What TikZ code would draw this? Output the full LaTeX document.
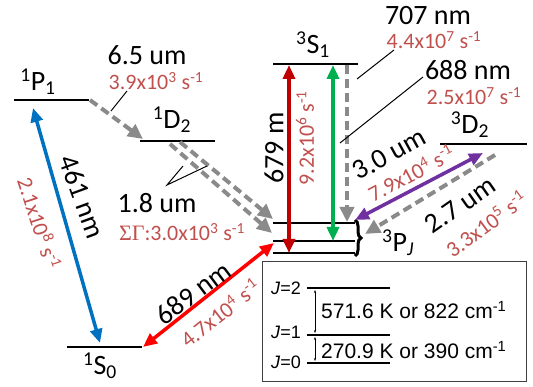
\documentclass[tikz,border=0pt]{standalone}
\usepackage{fontspec}
\setmainfont{Carlito}
\newfontfamily\boxfont{Liberation Sans}
\newfontfamily\greekfont{Liberation Serif}
\usetikzlibrary{arrows.meta,decorations.pathreplacing}
\definecolor{ratered}{HTML}{C0504D}
\definecolor{darkred}{HTML}{C00000}
\definecolor{brightred}{HTML}{FF0000}
\definecolor{lineblue}{HTML}{0070C0}
\definecolor{linegreen}{HTML}{00B050}
\definecolor{linepurple}{HTML}{7030A0}
\definecolor{decaygray}{HTML}{8A8A8A}
\newcommand{\bigtxt}{\fontsize{28}{32}\selectfont}
\newcommand{\ratetxt}{\fontsize{22}{26}\selectfont}
\newcommand{\up}[1]{\textsuperscript{#1}}
\newcommand{\dn}[1]{\textsubscript{#1}}
\tikzset{
  level/.style={line width=1.5pt},
  trans/.style={line width=3.5pt, {Triangle[length=14pt,width=12pt]}-{Triangle[length=14pt,width=12pt]}},
  decay/.style={line width=4pt, decaygray, dash pattern=on 9pt off 5pt, -{Triangle[length=15pt,width=14pt]}},
  lbl/.style={font=\bigtxt, inner sep=0pt},
  rate/.style={font=\ratetxt, text=ratered, inner sep=0pt},
  leader/.style={line width=1pt},
  jlbl/.style={font=\boxfont\fontsize{18}{20}\selectfont, inner sep=0pt, anchor=east},
  boxtxt/.style={font=\boxfont\fontsize{21}{24}\selectfont, inner sep=0pt, anchor=west}
}
\begin{document}
\begin{tikzpicture}[x=1pt,y=-1pt]
  \useasboundingbox (0,0) rectangle (533,387);
  % energy levels
  \foreach \name/\xa/\xb/\y in {sP/14/89/100, sD/140/215/141, sS/67/142/347, tS/273/358/64,
      tD/440/527/144, tPtwo/273/355/223, tPone/273/355/241, tPzero/273/355/253}
    \draw[level] (\xa,\y) coordinate (\name-l) -- (\xb,\y) coordinate (\name-r);
  \node[lbl] (sPlbl) at (38,82) {\up{1}P\dn{1}};
  \node[lbl] (sDlbl) at (172,120) {\up{1}D\dn{2}};
  \node[lbl] (sSlbl) at (100,366) {\up{1}S\dn{0}};
  \node[lbl] (tSlbl) at (313,45) {\up{3}S\dn{1}};
  \node[lbl] (tDlbl) at (470,125) {\up{3}D\dn{2}};
  \node[lbl] (tPlbl) at (398,243) {\up{3}P\dn{\textit{J}}};
  \draw[line width=3pt, decorate, decoration={brace, amplitude=6pt}] (tPtwo-r) ++(0,-3) coordinate (brtop)
    -- (355,256) coordinate (brbot);
  % transition end points
  \coordinate (blueA) at (33,108);   \coordinate (blueB) at (100,343);
  \coordinate (redA) at (143,347);   \coordinate (redB) at (274,243);
  \coordinate (dredA) at (289,65);   \coordinate (dredB) at (289,253);
  \coordinate (grnA) at (333,65);    \coordinate (grnB) at (333,241);
  \coordinate (gryA) at (347,65);    \coordinate (gryB) at (347,222);
  \coordinate (purA) at (483,153);   \coordinate (purB) at (355,220);
  \coordinate (tdA) at (495,155);    \coordinate (tdB) at (365,234);
  \coordinate (pdA) at (90,100);     \coordinate (pdB) at (143,139);
  \coordinate (ddA) at (180,142);    \coordinate (ddB) at (273,219);
  \coordinate (deA) at (170,144);    \coordinate (deB) at (272,233);
  % transitions
  \draw[trans, lineblue] (blueA) -- (blueB);
  \draw[trans, brightred] (redA) -- (redB);
  \draw[trans, darkred] (dredA) -- (dredB);
  \draw[trans, linegreen] (grnA) -- (grnB);
  \draw[trans, linepurple] (purA) -- (purB);
  \draw[decay] (gryA) -- (gryB);
  \draw[decay] (tdA) -- (tdB);
  \draw[decay] (pdA) -- (pdB);
  \draw[decay] (ddA) -- (ddB);
  \draw[decay] (deA) -- (deB);
  % wavelengths and rates
  \node[lbl] (pdlbl) at (147,55) {6.5 um};
  \node[rate] (pdrate) at (156,81) {3.9x10\up{3} s\up{-1}};
  \node[lbl] (ddlbl) at (157,203) {1.8 um};
  \node[rate] (ddrate) at (182,232) {{\greekfont ΣΓ}:3.0x10\up{3} s\up{-1}};
  \node[lbl, rotate=-70] (bluelbl) at (82,197) {461 nm};
  \node[rate, rotate=-72] (bluerate) at (40,223) {2.1x10\up{8} s\up{-1}};
  \node[lbl, rotate=37] (redlbl) at (193,293) {689 nm};
  \node[rate, rotate=38] (redrate) at (220,313) {4.7x10\up{4} s\up{-1}};
  \node[lbl, rotate=90] (dredlbl) at (274,148) {679 m};
  \node[rate, rotate=90] (dredrate) at (305,138) {9.2x10\up{6} s\up{-1}};
  \node[lbl] (grylbl) at (428,16) {707 nm};
  \node[rate] (gryrate) at (434,40) {4.4x10\up{7} s\up{-1}};
  \node[lbl] (grnlbl) at (468,70) {688 nm};
  \node[rate] (grnrate) at (474,96) {2.5x10\up{7} s\up{-1}};
  \node[lbl, rotate=29] (purlbl) at (389,154) {3.0 um};
  \node[rate, rotate=28] (purrate) at (411,173) {7.9x10\up{4} s\up{-1}};
  \node[lbl, rotate=35] (tdlbl) at (460,205) {2.7 um};
  \node[rate, rotate=36] (tdrate) at (486,224) {3.3x10\up{5} s\up{-1}};
  % leader lines
  \coordinate (pdtick) at (127,91);  \coordinate (pdfoot) at (111,111);
  \coordinate (ddtip) at (167,185);  \coordinate (ddfootA) at (183,166);  \coordinate (ddfootB) at (207,166);
  \coordinate (grytick) at (357,79); \coordinate (gryfoot) at (394,50);
  \coordinate (grntick) at (340,143); \coordinate (grnfoot) at (423,77);
  \draw[leader] (pdtick) -- (pdfoot);
  \draw[leader] (ddfootA) -- (ddtip) -- (ddfootB);
  \draw[leader] (grytick) -- (gryfoot);
  \draw[leader] (grntick) -- (grnfoot);
  % fine structure inset
  \draw[line width=1pt, black!75] (262,262) rectangle (526,382);
  \foreach \j/\y in {2/288, 1/335, 0/363}
    \draw[line width=1.2pt] (307,\y) coordinate (J\j-l) -- (390,\y) coordinate (J\j-r);
  \node[jlbl] (Jtwo) at (301,288) {\textit{J}=2};
  \node[jlbl] (Jone) at (301,332) {\textit{J}=1};
  \node[jlbl] (Jzero) at (301,362) {\textit{J}=0};
  \coordinate (gapA) at (315,290); \coordinate (gapB) at (315,333);
  \coordinate (gapC) at (315,337); \coordinate (gapD) at (315,361);
  \draw[line width=0.6pt, {Stealth[length=3pt]}-{Stealth[length=3pt]}] (gapA) -- (gapB);
  \draw[line width=0.6pt, {Stealth[length=3pt]}-{Stealth[length=3pt]}] (gapC) -- (gapD);
  \node[boxtxt] (gapbig) at (321,310) {571.6 K or 822 cm\up{-1}};
  \node[boxtxt] (gapsmall) at (321,350) {270.9 K or 390 cm\up{-1}};
\end{tikzpicture}
\end{document}
